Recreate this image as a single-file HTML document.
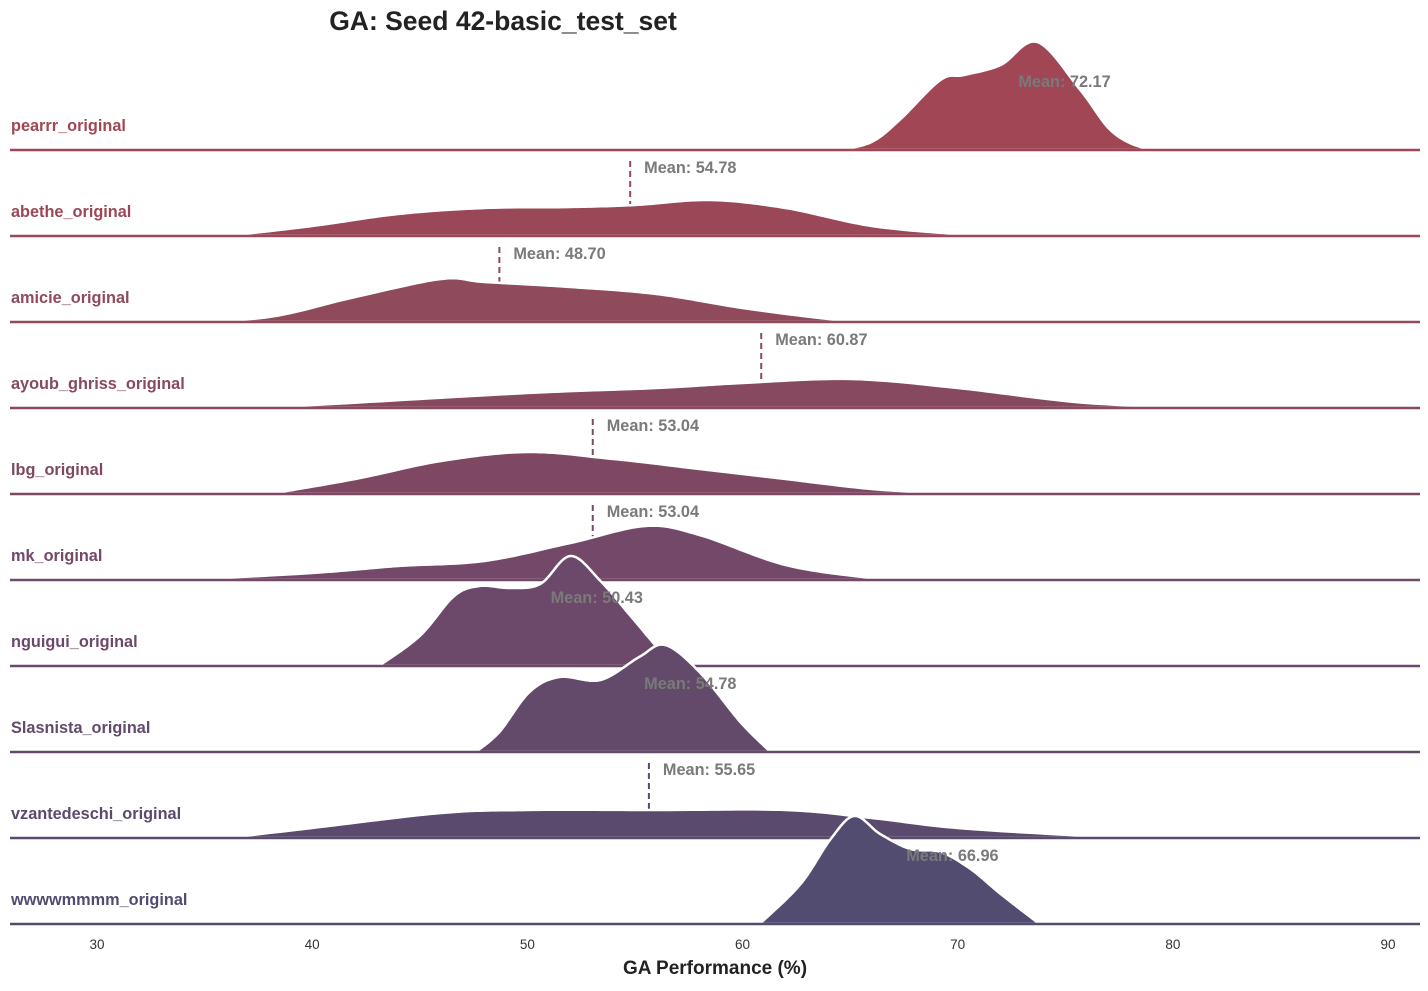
<!DOCTYPE html>
<html><head><meta charset="utf-8"><style>
body{margin:0;background:#fff;font-family:"Liberation Sans",Arial,sans-serif}
</style></head><body>
<svg id="c" width="1428" height="986" xmlns="http://www.w3.org/2000/svg">
<text x="503" y="30" text-anchor="middle" font-size="26.5" font-weight="bold" fill="#222">GA: Seed 42-basic_test_set</text>
<text x="715" y="974" text-anchor="middle" font-size="19" font-weight="bold" fill="#222">GA Performance (%)</text>
</svg>
<script>
const categories=["pearrr_original","abethe_original","amicie_original","ayoub_ghriss_original","lbg_original","mk_original","nguigui_original","Slasnista_original","vzantedeschi_original","wwwwmmmm_original"];
const means=[72.17,54.78,48.70,60.87,53.04,53.04,50.43,54.78,55.65,66.96];
const colors=["#a14654","#9a4858","#8f4a5c","#87495f","#7e4862","#744868","#6c486a","#634a6b","#5a4a6d","#514c70"];
const xTicks=[30,40,50,60,70,80,90];
const densX=[
[64.5,66,67.3,69.2,70.3,72,73.7,75.7,77.1,78.5,80],
[36,40,44,48,52,55,58.5,62,66,70,72],
[34,38,42,46,48,52,56,60,64,66],
[36,40,50,56,60,65,70,76,82],
[38,42,46,50,54,58,62,66,70],
[34,40,44,48,52,55.5,58,62,66,68],
[43.1,45,46.6,47.8,49.2,50.6,52,53.4,54.8,56.2,57.1],
[47.6,48.7,50.1,51.5,53.4,55.2,56.4,58,59.9,61.3],
[36,40,46,50,56,62,66,70,76,78],
[60.8,62.7,64.1,65.2,66.4,67.8,69.2,70.6,72,73.8]];
const densY=[
[0,8,30,70,75,85,108,60,20,3,0],
[0,10,22,28,29,31,36,28,10,2,0],
[0,5,25,43,40,35,28,14,3,0],
[0,3,15,20,25,29,20,5,0],
[0,15,33,42,35,25,15,5,0],
[0,7,14,19,37,54,45,15,2,0],
[0,30,70,80,78,82,110,85,50,15,0],
[0,20,60,75,72,95,107,80,30,0],
[0,10,25,28,28,28,20,10,2,0],
[0,40,85,108,90,75,72,55,30,0]];
const svg=document.getElementById('c');
const NS='http://www.w3.org/2000/svg';
const xs=v=>97+(v-30)*1291/60;
const base=i=>150+i*86;
function mk(t,a){const e=document.createElementNS(NS,t);for(const k in a)e.setAttribute(k,a[k]);svg.appendChild(e);return e;}
function curve(X,Y,b){
  let pts=[];
  for(let i=0;i<X.length-1;i++){
    const p0=[X[Math.max(i-1,0)],Y[Math.max(i-1,0)]],p1=[X[i],Y[i]],p2=[X[i+1],Y[i+1]],p3=[X[Math.min(i+2,X.length-1)],Y[Math.min(i+2,X.length-1)]];
    for(let s=0;s<20;s++){const t=s/20,t2=t*t,t3=t2*t;
      const f=(a,b1,c,d)=>0.5*(2*b1+(-a+c)*t+(2*a-5*b1+4*c-d)*t2+(-a+3*b1-3*c+d)*t3);
      pts.push([f(p0[0],p1[0],p2[0],p3[0]),Math.max(0,f(p0[1],p1[1],p2[1],p3[1]))]);}
  }
  pts.push([X[X.length-1],Y[Y.length-1]]);
  return pts.map((p,k)=>(k?'L':'M')+xs(p[0]).toFixed(1)+','+(b-p[1]).toFixed(1)).join('');
}
categories.forEach((c,i)=>{
  const b=base(i);
  const mx=xs(means[i]);
  const dl=mk('line',{x1:mx,x2:mx,y1:b-75,y2:b,stroke:colors[i],'stroke-width':2,'stroke-dasharray':'6,4'});
  
  
  const d=curve(densX[i],densY[i],b);
  const ar=mk('path',{d:d+'Z',fill:colors[i],stroke:'#fff','stroke-width':2.5});
  
  
  const bl=mk('line',{x1:10,x2:1420,y1:b,y2:b,stroke:colors[i],'stroke-width':2.5});
  
  
  const lb=mk('text',{x:11,y:b-19,'font-size':16.3,'font-weight':'bold',fill:colors[i]});
  lb.textContent=c;
  
  
  const mt=mk('text',{x:mx+14,y:b-63,'font-size':16.3,'font-weight':'bold',fill:'#7a7a7a'});
  mt.textContent='Mean: '+means[i].toFixed(2);
  
  
});
xTicks.forEach(t=>{
  const e=mk('text',{x:xs(t),y:949,'text-anchor':'middle','font-size':13.5,fill:'#333'});
  e.textContent=t;
  
  
});
</script>
</body></html>
